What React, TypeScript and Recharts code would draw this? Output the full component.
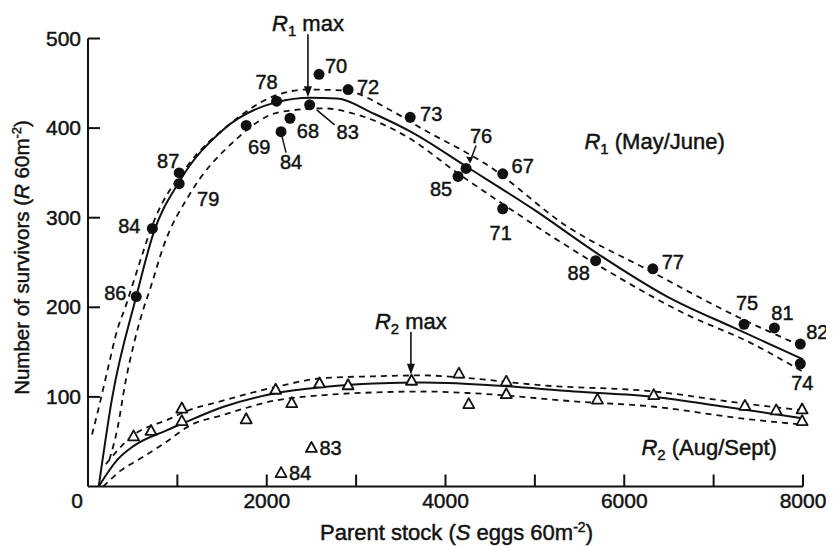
import {
  ComposedChart,
  Line,
  ReferenceDot,
  Scatter,
  XAxis,
  YAxis
} from "recharts";

// observed points, R1 (May/June)
const r1Stock = [540, 720, 1020, 1020, 1770, 2110, 2160, 2260, 2480, 2585, 2910, 3605, 4140, 4230, 4640, 4640, 5680, 6320, 7340, 7680, 7970, 7970];
const r1Survivors = [212, 288, 350, 338, 403, 430, 396, 411, 426, 460, 443, 412, 346, 355, 349, 310, 252, 243, 181, 177, 159, 137];
const r1Years = ["86", "84", "87", "79", "69", "78", "84", "68", "83", "70", "72", "73", "85", "76", "67", "71", "88", "77", "75", "81", "82", "74"];

// observed points, R2 (Aug/Sept)
const r2Stock = [510, 705, 1050, 1050, 1770, 2100, 2280, 2590, 2910, 3620, 4150, 4260, 4680, 4680, 5700, 6330, 7350, 7700, 7990, 7990, 2500, 2160];
const r2Survivors = [56, 62, 87, 73, 75, 108, 93, 115, 113, 118, 126, 92, 117, 103, 97, 102, 90, 85, 86, 73, 43, 15];
const r2Years = ["", "", "", "", "", "", "", "", "", "", "", "", "", "", "", "", "", "", "", "", "83", "84"];

// fitted curves
const r1FitX = [120, 272, 540, 730, 1020, 1510, 2110, 2490, 2790, 3200, 3610, 4250, 4990, 5700, 6480, 7230, 8000];
const r1FitY = [0, 100, 212, 282, 340, 398, 429, 434, 433, 416, 396, 356, 309, 260, 212, 177, 142];
const r1UpperX = [45, 123, 235, 328, 421, 514, 750, 1106, 1592, 2115, 2450, 2860, 3385, 3760, 4245, 4432, 5365, 6300, 7235, 8000];
const r1UpperY = [58, 89, 137, 175, 201, 230, 299, 357, 405, 437, 443, 442, 420, 398, 372, 361, 290, 240, 191, 156];
const r1LowerX = [240, 330, 420, 515, 610, 700, 844, 1143, 1630, 2152, 2638, 3012, 3573, 4133, 4645, 5740, 6675, 7420, 8000];
const r1LowerY = [30, 65, 117, 160, 195, 222, 268, 327, 385, 418, 422, 415, 390, 350, 315, 245, 193, 160, 128];

const r2FitX = [120, 330, 508, 887, 1050, 1517, 2097, 2638, 3199, 3760, 4507, 5441, 6338, 7123, 8000];
const r2FitY = [0, 30, 45, 63, 70, 89, 104, 111, 115, 116, 113, 106, 100, 89, 76];
const r2UpperX = [200, 477, 925, 1050, 1517, 2097, 2638, 3199, 3760, 4133, 5067, 6338, 7309, 8000];
const r2UpperY = [25, 55, 76, 82, 96, 111, 121, 123, 124, 122, 113, 106, 93, 85];
const r2LowerX = [170, 370, 600, 850, 1140, 1517, 2097, 2638, 3199, 3760, 4320, 5441, 6338, 7309, 8000];
const r2LowerY = [0, 18, 32, 48, 68, 80, 96, 102, 105, 106, 104, 95, 89, 76, 69];

const xTicks = [0, 1000, 2000, 3000, 4000, 5000, 6000, 7000, 8000];
const yTicks = [0, 100, 200, 300, 400, 500];

// label placement for each R1 point (pixels from the dot)
const r1LabelOffsets: [number, number][] = [
  [-21, -4], [-23, -3], [-11, -12], [29, 15], [13, 21], [-10, -19], [10, 30], [18, 13],
  [38, 27], [17, -9], [20, -3], [21, -4], [-17, 12], [15, -33], [20, -8], [-2, 24],
  [-17, 12], [20, -7], [3, -22], [8, -15], [17, -12], [2, 19]
];
// leader lines: [x1, y1, x2, y2, arrow]
const r1Leaders: Record<number, [number, number, number, number, boolean]> = {
  6: [1, 5, 5, 21, false],
  8: [7, 5, 25, 20, false],
  13: [10, -23, 4, -7, true]
};

const font = "'Liberation Sans', Arial, Helvetica, sans-serif";
const ink = "#111";
// the scanned lettering is heavier than a plain regular face
const heavy = { stroke: ink, strokeWidth: 0.45 };

const zip = (xs: number[], ys: number[]) => xs.map((x, i) => ({ x, y: ys[i] }));

const r1Points = r1Stock.map((x, i) => ({ x, y: r1Survivors[i], year: r1Years[i], idx: i }));
const r2Points = r2Stock.map((x, i) => ({ x, y: r2Survivors[i], year: r2Years[i] }));

function XTick({ x, y, payload }: any) {
  const v = payload.value;
  return (
    <g>
      {v !== 0 && <line x1={x} x2={x} y1={y} y2={y - 12} stroke={ink} strokeWidth={2} />}
      {v % 2000 === 0 && (
        <text x={v === 0 ? x - 11 : x} y={y + 21} textAnchor="middle" fontSize={21} fontFamily={font} fill={ink} {...heavy}>
          {v}
        </text>
      )}
    </g>
  );
}

function YTick({ x, y, payload }: any) {
  const v = payload.value;
  if (v === 0) return <g />;
  return (
    <g>
      <line x1={x} x2={x + 12} y1={y} y2={y} stroke={ink} strokeWidth={2} />
      <text x={x - 7} y={y + 7} textAnchor="end" fontSize={21} fontFamily={font} fill={ink} {...heavy}>
        {v}
      </text>
    </g>
  );
}

function R1Dot(props: any) {
  const { cx, cy } = props;
  const p = props.payload ?? props;
  const [dx, dy] = r1LabelOffsets[p.idx];
  const leader = r1Leaders[p.idx];
  return (
    <g>
      <circle cx={cx} cy={cy} r={5.5} fill={ink} />
      {leader && (
        <line x1={cx + leader[0]} y1={cy + leader[1]} x2={cx + leader[2]} y2={cy + leader[3]} stroke={ink} strokeWidth={1.5} />
      )}
      {leader && leader[4] && (
        <path d={`M${cx + leader[2]},${cy + leader[3] + 2} l-4,-7 l7,1 z`} fill={ink} />
      )}
      <text x={cx + dx} y={cy + dy} dy="0.36em" textAnchor="middle" fontSize={20} fontFamily={font} fill={ink} {...heavy}>
        {p.year}
      </text>
    </g>
  );
}

function R2Tri(props: any) {
  const { cx, cy } = props;
  const p = props.payload ?? props;
  return (
    <g>
      <path d={`M${cx},${cy - 6} L${cx + 5.5},${cy + 4} L${cx - 5.5},${cy + 4} Z`} fill="#fff" stroke={ink} strokeWidth={1.8} strokeLinejoin="round" />
      {p.year && (
        <text x={cx + 8} y={cy} dy="0.36em" textAnchor="start" fontSize={20} fontFamily={font} fill={ink} {...heavy}>
          {p.year}
        </text>
      )}
    </g>
  );
}

function MaxNote({ cx, cy, sub, len }: any) {
  return (
    <g fontFamily={font} fill={ink}>
      <text x={cx} y={cy} dy="0.36em" textAnchor="middle" fontSize={22} {...heavy}>
        <tspan fontStyle="italic">R</tspan>
        <tspan fontSize={15} dy={5}>{sub}</tspan>
        <tspan dy={-5}> max</tspan>
      </text>
      <line x1={cx} x2={cx} y1={cy + 11} y2={cy + len - 8} stroke={ink} strokeWidth={1.6} />
      <path d={`M${cx - 4},${cy + len - 11} L${cx + 4},${cy + len - 11} L${cx},${cy + len} Z`} fill={ink} />
    </g>
  );
}

function SeriesNote({ cx, cy, sub, rest }: any) {
  return (
    <text x={cx} y={cy} dy="0.36em" textAnchor="middle" fontSize={22} fontFamily={font} fill={ink} {...heavy}>
      <tspan fontStyle="italic">R</tspan>
      <tspan fontSize={15} dy={5}>{sub}</tspan>
      <tspan dy={-5}>{rest}</tspan>
    </text>
  );
}

function YTitle({ viewBox }: any) {
  const cx = viewBox.x + 14;
  const cy = viewBox.y + viewBox.height / 2 - 5;
  return (
    <text x={cx} y={cy} dy="0.36em" transform={`rotate(-90 ${cx} ${cy})`} textAnchor="middle" fontSize={20.5} fontFamily={font} fill={ink} {...heavy}>
      Number of survivors (<tspan fontStyle="italic">R</tspan> 60m
      <tspan fontSize={13} dy={-8}>-2</tspan>
      <tspan dy={8}>)</tspan>
    </text>
  );
}

function XTitle({ viewBox }: any) {
  const cx = viewBox.x + viewBox.width / 2 + 11;
  const cy = viewBox.y + 53.5;
  return (
    <text x={cx} y={cy} textAnchor="middle" fontSize={22} fontFamily={font} fill={ink} {...heavy}>
      Parent stock (<tspan fontStyle="italic">S</tspan> eggs 60m
      <tspan fontSize={14} dy={-8}>-2</tspan>
      <tspan dy={8}>)</tspan>
    </text>
  );
}

export default function App() {
  const solid = { stroke: ink, strokeWidth: 2, dot: false, isAnimationActive: false, type: "monotone" as const };
  const dashed = { ...solid, strokeWidth: 1.8, strokeDasharray: "6 5" };
  return (
    <ComposedChart width={826} height={538} margin={{ top: 30.5, right: 31, bottom: 19.5, left: 0 }} style={{ overflow: "visible" }}>
      <XAxis
        type="number"
        dataKey="x"
        domain={[0, 8000]}
        ticks={xTicks}
        height={40}
        tickSize={0}
        tickMargin={0}
        tick={<XTick />}
        axisLine={{ stroke: ink, strokeWidth: 2 }}
        tickLine={false}
        interval={0}
        label={<XTitle />}
      />
      <YAxis
        type="number"
        dataKey="y"
        domain={[0, 500]}
        ticks={yTicks}
        width={80}
        tickSize={0}
        tickMargin={0}
        tick={<YTick />}
        axisLine={{ stroke: ink, strokeWidth: 2 }}
        tickLine={false}
        interval={0}
        label={<YTitle />}
      />
      <Line data={zip(r1UpperX, r1UpperY)} dataKey="y" {...dashed} />
      <Line data={zip(r1LowerX, r1LowerY)} dataKey="y" {...dashed} />
      <Line data={zip(r1FitX, r1FitY)} dataKey="y" {...solid} />
      <Line data={zip(r2UpperX, r2UpperY)} dataKey="y" {...dashed} />
      <Line data={zip(r2LowerX, r2LowerY)} dataKey="y" {...dashed} />
      <Line data={zip(r2FitX, r2FitY)} dataKey="y" {...solid} />
      <Scatter data={r2Points} dataKey="y" shape={(p: any) => <R2Tri {...p} />} isAnimationActive={false} />
      <Scatter data={r1Points} dataKey="y" shape={(p: any) => <R1Dot {...p} />} isAnimationActive={false} />
      <ReferenceDot x={2461} y={517} r={0} ifOverflow="visible" shape={(p: any) => <MaxNote cx={p.cx} cy={p.cy} sub="1" len={74} />} />
      <ReferenceDot x={3613} y={185} r={0} ifOverflow="visible" shape={(p: any) => <MaxNote cx={p.cx} cy={p.cy} sub="2" len={54} />} />
      <ReferenceDot x={6340} y={386} r={0} ifOverflow="visible" shape={(p: any) => <SeriesNote cx={p.cx} cy={p.cy} sub="1" rest=" (May/June)" />} />
      <ReferenceDot x={6950} y={44} r={0} ifOverflow="visible" shape={(p: any) => <SeriesNote cx={p.cx} cy={p.cy} sub="2" rest=" (Aug/Sept)" />} />
    </ComposedChart>
  );
}
